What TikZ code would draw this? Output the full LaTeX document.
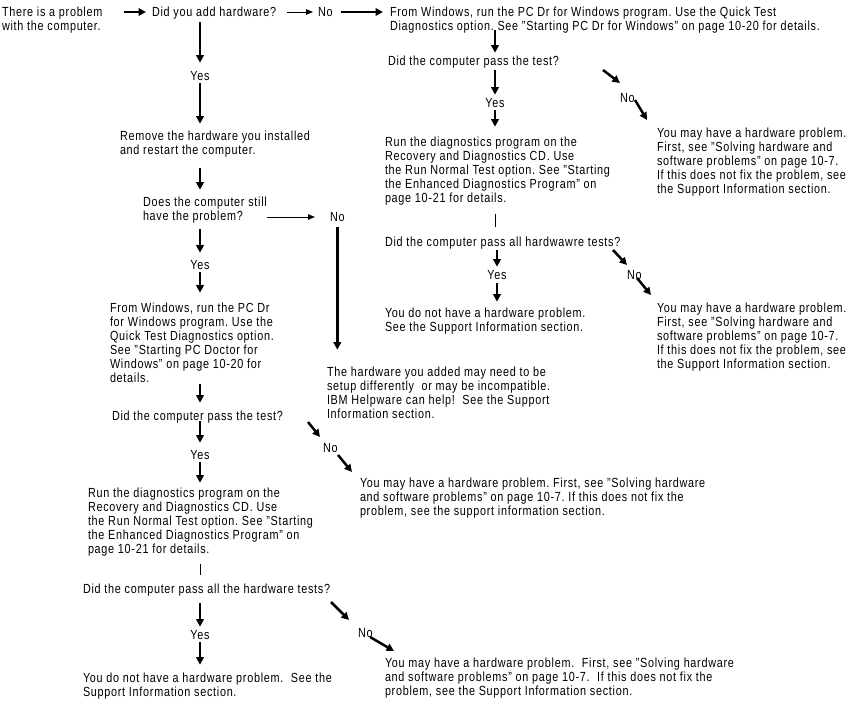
\documentclass[tikz,border=0pt]{standalone}
\usepackage{fontspec}
\setmainfont{Liberation Sans}[FakeStretch=0.82, LetterSpace=5.5]
\usetikzlibrary{arrows.meta,calc}
\tikzset{
  basetxt/.style={inner sep=0pt, outer sep=0pt, font=\fontsize{13.2pt}{14pt}\selectfont\frenchspacing},
  one/.style={basetxt, text height=9.4pt, text depth=0pt, anchor=west},
  multi/.style={basetxt, align=left, anchor=north west},
  lbl/.style={basetxt, text height=9.4pt, text depth=0pt, anchor=center},
  thk/.style={line width=2.5pt, -{Triangle[length=7.5pt,width=7.5pt]}},
  thn/.style={line width=0.9pt, -{Triangle[length=7pt,width=5.5pt]}},
  tickline/.style={line width=0.6pt}
}
\begin{document}
\begin{tikzpicture}[x=1pt,y=-1pt]
\useasboundingbox (0,0) rectangle (857,708);
\fill[white] (0,0) rectangle (857,708);
% ---------- left column ----------
\node[multi] (n1) at (2,7.3) {There is a problem\\with the computer.};
\node[one] (q1) at (152,12) {Did you add hardware?};
\node[one] (no1) at (318,12) {No};
\node[multi] (a1) at (390,7.3) {From Windows, run the PC Dr for Windows program. Use the Quick Test\\Diagnostics option. See "Starting PC Dr for Windows" on page 10-20 for details.};
\node[lbl] (yes1) at (200,76) {Yes};
\node[multi] (r1) at (120,131.3) {Remove the hardware you installed\\and restart the computer.};
\node[multi] (q2) at (143,197.3) {Does the computer still\\have the problem?};
\node[one] (no2) at (330,217) {No};
\node[lbl] (yes2) at (200,265) {Yes};
\node[multi] (a2) at (110,303.3) {From Windows, run the PC Dr\\for Windows program. Use the\\Quick Test Diagnostics option.\\See "Starting PC Doctor for\\Windows" on page 10-20 for\\details.};
\node[multi] (h1) at (327,367.3) {The hardware you added may need to be\\setup differently~ or may be incompatible.\\IBM Helpware can help!~ See the Support\\Information section.};
\node[one] (q3) at (112,416) {Did the computer pass the test?};
\node[lbl] (yes3) at (200,455) {Yes};
\node[one] (no3) at (323,448) {No};
\node[multi] (d1) at (88,488.3) {Run the diagnostics program on the\\Recovery and Diagnostics CD. Use\\the Run Normal Test option. See "Starting\\the Enhanced Diagnostics Program" on\\page 10-21 for details.};
\node[multi] (m1) at (360,478.3) {You may have a hardware problem. First, see "Solving hardware\\and software problems" on page 10-7. If this does not fix the\\problem, see the support information section.};
\node[one] (q4) at (83,589) {Did the computer pass all the hardware tests?};
\node[lbl] (yes4) at (200,635) {Yes};
\node[one] (no4) at (358,633) {No};
\node[multi] (ok1) at (83,673.3) {You do not have a hardware problem.~ See the\\Support Information section.};
\node[multi] (m2) at (385,658.3) {You may have a hardware problem.~ First, see "Solving hardware\\and software problems" on page 10-7.~ If this does not fix the\\problem, see the Support Information section.};
% ---------- right column ----------
\node[one] (q5) at (388,61) {Did the computer pass the test?};
\node[lbl] (yes5) at (495,103) {Yes};
\node[one] (no5) at (620,98) {No};
\node[multi] (m3) at (657,128.3) {You may have a hardware problem.\\First, see "Solving hardware and\\software problems" on page 10-7.\\If this does not fix the problem, see\\the Support Information section.};
\node[multi] (d2) at (385,137.3) {Run the diagnostics program on the\\Recovery and Diagnostics CD. Use\\the Run Normal Test option. See "Starting\\the Enhanced Diagnostics Program" on\\page 10-21 for details.};
\node[one] (q6) at (385,242) {Did the computer pass all hardwawre tests?};
\node[lbl] (yes6) at (497,275) {Yes};
\node[one] (no6) at (627,275) {No};
\node[multi] (ok2) at (385,308.3) {You do not have a hardware problem.\\See the Support Information section.};
\node[multi] (m4) at (657,303.3) {You may have a hardware problem.\\First, see "Solving hardware and\\software problems" on page 10-7.\\If this does not fix the problem, see\\the Support Information section.};
% ---------- connectors: top row ----------
\draw[thk, shorten <=22pt, shorten >=6pt] (n1.east |- q1.west) -- (q1.west);
\draw[thn, shorten <=11pt, shorten >=5pt] (q1.east) -- (no1.west);
\draw[thk, shorten <=8.5pt, shorten >=7pt] (no1.east) -- (no1.east -| a1.west);
% ---------- left column ----------
\draw[thk, shorten <=5.6pt, shorten >=8.6pt] (yes1 |- q1.south) -- (yes1.north);
\draw[thk, shorten <=2.7pt, shorten >=7.6pt] (yes1.south) -- (yes1 |- r1.north);
\draw[thk, shorten <=10.2pt, shorten >=7.6pt] (yes1 |- r1.south) -- (yes1 |- q2.north);
\draw[thk, shorten <=5.2pt, shorten >=7.6pt] (yes2 |- q2.south) -- (yes2.north);
\draw[thk, shorten <=2.7pt, shorten >=10.6pt] (yes2.south) -- (yes2 |- a2.north);
\draw[thk, shorten <=1pt, shorten >=8.6pt] (yes3 |- a2.south) -- (yes3 |- q3.north);
\draw[thk, shorten <=0pt, shorten >=7.6pt] (yes3 |- q3.south) -- (yes3.north);
\draw[thk, shorten <=2.7pt, shorten >=5.6pt] (yes3.south) -- (yes3 |- d1.north);
\draw[tickline, shorten <=7.2pt, shorten >=9.6pt] (yes3 |- d1.south) -- (yes3 |- q4.north);
\draw[thk, shorten <=9.6pt, shorten >=3.6pt] (yes4 |- q4.south) -- (yes4.north);
\draw[thk, shorten <=2.7pt, shorten >=8.6pt] (yes4.south) -- (yes4 |- ok1.north);
\draw[thn, shorten >=15pt] (q2.east |- no2.west) -- (no2.west);
\draw[thk, shorten <=5.6pt, shorten >=17.6pt] (no2.south) -- (no2.south |- h1.north);
\draw[thk] ($(no3.west)+(-15,-26)$) -- ($(no3.west)+(-3,-11)$);
\draw[thk] ($(no3.west)+(15,7)$) -- ($(no3.west)+(29,24)$);
\draw[thk] ($(no4.west)+(-27,-31)$) -- ($(no4.west)+(-9,-13)$);
\draw[thk] ($(no4.west)+(12,4)$) -- ($(no4.west)+(36,18)$);
% ---------- right column ----------
\draw[thk, shorten <=-3.8pt, shorten >=3.6pt] (yes5 |- a1.south) -- (yes5 |- q5.north);
\draw[thk, shorten <=4.6pt, shorten >=3.6pt] (yes5 |- q5.south) -- (yes5.north);
\draw[thk, shorten <=2.7pt, shorten >=10.6pt] (yes5.south) -- (yes5 |- d2.north);
\draw[tickline, shorten <=8.2pt, shorten >=10.6pt] (yes5 |- d2.south) -- (yes5 |- q6.north);
\draw[thk, shorten <=3.6pt, shorten >=3.6pt] (yes6 |- q6.south) -- (yes6.north);
\draw[thk, shorten <=3.6pt, shorten >=6.6pt] (yes6.south) -- (yes6 |- ok2.north);
\draw[thk] ($(no5.west)+(-17,-28)$) -- ($(no5.west)+(0,-15)$);
\draw[thk] ($(no5.west)+(15,2)$) -- ($(no5.west)+(27,22)$);
\draw[thk] ($(no6.west)+(-14,-25)$) -- ($(no6.west)+(0,-10)$);
\draw[thk] ($(no6.west)+(10,3)$) -- ($(no6.west)+(24,20)$);
\end{tikzpicture}
\end{document}
